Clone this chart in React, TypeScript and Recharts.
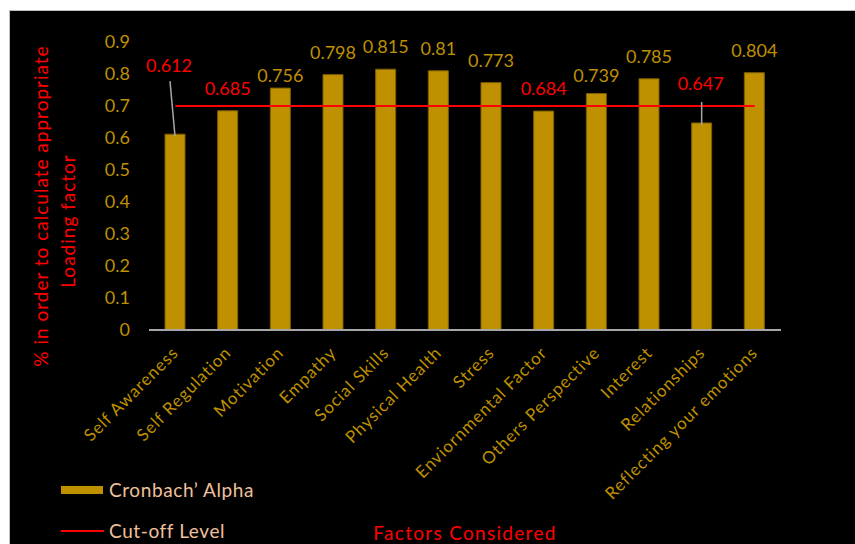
import React from 'react';
import { ComposedChart, Bar, Line, XAxis, YAxis, Legend, LabelList } from 'recharts';

const categories = [
  'Self Awareness',
  'Self Regulation',
  'Motivation',
  'Empathy',
  'Social Skills',
  'Physical Health',
  'Stress',
  'Enviornmental Factor',
  'Others Perspective',
  'Interest',
  'Relationships',
  'Reflecting your emotions',
];
const alphaValues = [0.612, 0.685, 0.756, 0.798, 0.815, 0.81, 0.773, 0.684, 0.739, 0.785, 0.647, 0.804];
const cutoffValues = [0.7, 0.7, 0.7, 0.7, 0.7, 0.7, 0.7, 0.7, 0.7, 0.7, 0.7, 0.7];
const yTicks = [0, 0.1, 0.2, 0.3, 0.4, 0.5, 0.6, 0.7, 0.8, 0.9];

const data = categories.map((name, i) => ({ name, alpha: alphaValues[i], cutoff: cutoffValues[i] }));

const GOLD = '#BF9000';
const RED = '#FF0000';
const FONT = 'Lato, "Open Sans", sans-serif';

// label placement tweaks (px above the bar top, x shift, leader line)
const labelLift: Record<number, { lift: number; dx?: number; leader?: boolean }> = {
  0: { lift: 69, dx: -6, leader: true },
  2: { lift: 13 },
  8: { lift: 19 },
  10: { lift: 40, dx: -1, leader: true },
};

const ValueLabel = (props: any) => {
  const { x, y, width, value, index } = props;
  const cx = x + width / 2;
  const tweak = labelLift[index] || { lift: 23 };
  const ly = y - tweak.lift;
  const lx = cx + (tweak.dx || 0);
  const color = value < cutoffValues[index] ? RED : GOLD;
  return (
    <g>
      {tweak.leader && (
        <line x1={lx + 1} y1={ly + (index === 0 ? 16 : 19)} x2={cx} y2={y + 2} stroke="#A6A6A6" strokeWidth={1.5} />
      )}
      <text x={lx} y={ly} textAnchor="middle" dominantBaseline="central" fill={color} fontSize={18} fontFamily={FONT}>
        {value}
      </text>
    </g>
  );
};

const CategoryTick = (props: any) => {
  const { x, y, payload } = props;
  return (
    <g transform={`translate(${x + 4},${y + 16})`}>
      <text textAnchor="end" transform="rotate(-45)" fill={GOLD} fontSize={17} letterSpacing={0.9} fontFamily={FONT}>
        {payload.value}
      </text>
    </g>
  );
};

const YTitle = () => (
  <g fill={RED} fontSize={19} letterSpacing={1} fontFamily={FONT}>
    <text x={30} y={195} textAnchor="middle" dominantBaseline="central" transform="rotate(-90, 30, 195)">
      % in order to calculate appropriate
    </text>
    <text x={57} y={210} textAnchor="middle" dominantBaseline="central" transform="rotate(-90, 57, 210)">
      Loading factor
    </text>
  </g>
);

const renderLegend = (props: any) => {
  const { payload } = props;
  return (
    <div style={{ fontFamily: FONT, fontSize: 19, letterSpacing: 0.6, color: '#F0C09C' }}>
      {payload.map((entry: any) => (
        <div key={entry.value} style={{ display: 'flex', alignItems: 'center', height: 41 }}>
          {entry.type === 'line' ? (
            <div style={{ width: 43, height: 2, background: RED, marginRight: 5 }} />
          ) : (
            <div style={{ width: 42, height: 8, background: GOLD, marginRight: 6 }} />
          )}
          <span>{entry.value}</span>
        </div>
      ))}
    </div>
  );
};

export default function App() {
  return (
    <div style={{ position: 'absolute', left: 0, top: 0, width: 855, height: 544, background: '#fff', overflow: 'hidden' }}>
      <div
        style={{
          position: 'absolute',
          left: 9,
          top: 10,
          width: 870,
          height: 560,
          background: '#000',
          border: '1px solid #BFBFBF',
        }}
      >
        <ComposedChart width={845} height={533} data={data} margin={{ top: 31, right: 74, left: 79, bottom: 0 }}>
          <XAxis
            dataKey="name"
            interval={0}
            height={214}
            tickLine={false}
            axisLine={{ stroke: '#A6A6A6', strokeWidth: 2 }}
            tick={<CategoryTick />}
            label={{
              value: 'Factors Considered',
              position: 'insideBottom',
              offset: 4,
              fill: RED,
              fontSize: 19,
              letterSpacing: 1.3,
              fontFamily: FONT,
            }}
          />
          <YAxis
            width={60}
            domain={[0, 0.9]}
            ticks={yTicks}
            axisLine={false}
            tickLine={false}
            tickMargin={13}
            tick={{ fill: GOLD, fontSize: 18, fontFamily: FONT }}
            label={{ content: () => <YTitle /> }}
          />
          <Legend
            layout="vertical"
            align="center"
            verticalAlign="middle"
            content={renderLegend}
            wrapperStyle={{ position: 'absolute', left: 51, top: 458, width: 260 }}
          />
          <Bar
            dataKey="alpha"
            name="Cronbach’ Alpha"
            fill={GOLD}
            stroke="#7F6000"
            strokeWidth={1}
            barSize={20}
            legendType="rect"
            isAnimationActive={false}
          >
            <LabelList dataKey="alpha" content={<ValueLabel />} />
          </Bar>
          <Line
            dataKey="cutoff"
            name="Cut-off Level"
            type="linear"
            stroke={RED}
            strokeWidth={2}
            dot={false}
            activeDot={false}
            legendType="line"
            isAnimationActive={false}
          />
        </ComposedChart>
      </div>
    </div>
  );
}
